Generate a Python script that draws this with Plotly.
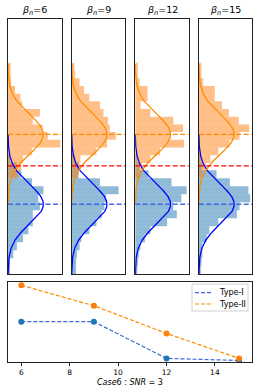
import numpy as np
import plotly.graph_objects as go

# ---------------- data ----------------
beta_n = [6, 9, 12, 15]
type1_err = [0.129, 0.129, 0.007, 0.0]
type2_err = [0.25, 0.182, 0.090, 0.007]
series_names = ['Type-I', 'Type-II']
x_ticks = [6, 8, 10, 12, 14]

mu0 = 0.0
mu1 = 3.5
sigma = 1.0
threshold = 1.92

# histogram bins (lower edge, bin width) and densities listed bottom -> top
h1_start, h1_width = 1.3, 0.385
h0_start, h0_width = -3.5, 0.4

h1_p1 = [0.11, 0.15, 0.17, 0.27, 0.59, 0.45, 0.39, 0.28, 0.36, 0.16, 0.14, 0.08, 0.035, 0.03, 0.03]
h1_p2 = [0.07, 0.09, 0.10, 0.28, 0.40, 0.50, 0.43, 0.41, 0.36, 0.32, 0.20, 0.14, 0.09, 0.04, 0.03]
h1_p3 = [0.06, 0.08, 0.17, 0.28, 0.55, 0.39, 0.54, 0.43, 0.17, 0.06, 0.14, 0.14, 0.05, 0.03, 0.03]
h1_p4 = [0.04, 0.08, 0.13, 0.22, 0.35, 0.46, 0.57, 0.45, 0.34, 0.26, 0.18, 0.18, 0.05, 0.03, 0.03]

h0_p1 = [0.02, 0.02, 0.06, 0.10, 0.17, 0.23, 0.28, 0.28, 0.36, 0.34, 0.40, 0.27, 0.15, 0.10, 0.02, 0.0]
h0_p2 = [0.05, 0.05, 0.06, 0.09, 0.11, 0.20, 0.28, 0.34, 0.37, 0.39, 0.53, 0.32, 0.08, 0.08, 0.04, 0.0]
h0_p3 = [0.02, 0.03, 0.04, 0.06, 0.11, 0.17, 0.36, 0.47, 0.43, 0.52, 0.58, 0.41, 0.15, 0.05, 0.02, 0.0]
h0_p4 = [0.02, 0.03, 0.04, 0.04, 0.09, 0.12, 0.22, 0.43, 0.46, 0.58, 0.56, 0.35, 0.20, 0.04, 0.02, 0.0]

h1_all = [h1_p1, h1_p2, h1_p3, h1_p4]
h0_all = [h0_p1, h0_p2, h0_p3, h0_p4]

# ---------------- layout geometry ----------------
W, H = 260, 392
panel_left = [8, 71.6, 135.2, 198.8]
panel_w = 53.6
top_y0, top_y1 = 19, 274
bot_x0, bot_x1 = 8, 252.4
bot_y0, bot_y1 = 282, 362

y_range = [-3.49, 9.27]
x_hist_range = [0, 0.605]

def px2fx(x):
    return x / W

def px2fy(y):
    return 1 - y / H

fig = go.Figure()

C0 = '#1f77b4'
C1 = '#ff7f0e'
line_cols = ['#4169e1', '#ff8c00']

for i in range(4):
    xa = 'x' if i == 0 else f'x{i+1}'
    ya = 'y' if i == 0 else f'y{i+1}'
    h0 = h0_all[i]
    h1 = h1_all[i]
    c0 = [h0_start + h0_width * (k + 0.5) for k in range(len(h0))]
    c1 = [h1_start + h1_width * (k + 0.5) for k in range(len(h1))]
    fig.add_trace(go.Bar(x=h0, y=c0, orientation='h', width=h0_width,
                         marker=dict(color=C0, opacity=0.5, line_width=0),
                         xaxis=xa, yaxis=ya, showlegend=False, hoverinfo='skip'))
    fig.add_trace(go.Bar(x=h1, y=c1, orientation='h', width=h1_width,
                         marker=dict(color=C1, opacity=0.5, line_width=0),
                         xaxis=xa, yaxis=ya, showlegend=False, hoverinfo='skip'))
    # fitted normal curves
    g0 = np.linspace(mu0 - 3.5 * sigma, mu0 + 3.5 * sigma, 200)
    g1 = np.linspace(mu1 - 3.5 * sigma, mu1 + 3.5 * sigma, 200)
    p0 = np.exp(-0.5 * ((g0 - mu0) / sigma) ** 2) / (sigma * np.sqrt(2 * np.pi))
    p1 = np.exp(-0.5 * ((g1 - mu1) / sigma) ** 2) / (sigma * np.sqrt(2 * np.pi))
    fig.add_trace(go.Scatter(x=p0, y=g0, mode='lines', line=dict(color='#0000ff', width=1.3),
                             xaxis=xa, yaxis=ya, showlegend=False, hoverinfo='skip'))
    fig.add_trace(go.Scatter(x=p1, y=g1, mode='lines', line=dict(color='#ff8c00', width=1.3),
                             xaxis=xa, yaxis=ya, showlegend=False, hoverinfo='skip'))
    # horizontal reference lines
    for yv, col in [(mu1, '#ff8c00'), (threshold, '#ff0000'), (mu0, '#4169e1')]:
        fig.add_trace(go.Scatter(x=x_hist_range, y=[yv, yv], mode='lines',
                                 line=dict(color=col, width=1.3, dash='5px,2.5px'),
                                 xaxis=xa, yaxis=ya, showlegend=False, hoverinfo='skip'))
    axis_common = dict(showline=True, mirror=True, linecolor='#222', linewidth=1,
                       showgrid=False, zeroline=False, showticklabels=False, ticks='')
    fig.layout[f'xaxis{"" if i == 0 else i+1}'] = dict(
        domain=[px2fx(panel_left[i]), px2fx(panel_left[i] + panel_w)],
        range=x_hist_range, anchor=ya, **axis_common)
    fig.layout[f'yaxis{"" if i == 0 else i+1}'] = dict(
        domain=[px2fy(top_y1), px2fy(top_y0)], range=y_range, anchor=xa, **axis_common)
    fig.add_annotation(x=px2fx(panel_left[i] + panel_w / 2), y=px2fy(10.5), xref='paper', yref='paper',
                       text=f'<i>β<sub>n</sub></i>={beta_n[i]}', showarrow=False,
                       font=dict(size=9.5, color='black'), xanchor='center', yanchor='middle')

# ---------------- bottom panel ----------------
for vals, col, mcol, name in [(type1_err, line_cols[0], C0, series_names[0]),
                              (type2_err, line_cols[1], C1, series_names[1])]:
    fig.add_trace(go.Scatter(x=beta_n, y=vals, mode='lines', name=name, showlegend=False,
                             line=dict(color=col, width=1.2, dash='4px,2px'),
                             xaxis='x5', yaxis='y5'))
for vals, mcol in [(type1_err, C0), (type2_err, C1)]:
    fig.add_trace(go.Scatter(x=beta_n, y=vals, mode='markers', showlegend=False,
                             marker=dict(color=mcol, size=6), xaxis='x5', yaxis='y5'))

fig.layout['xaxis5'] = dict(domain=[px2fx(bot_x0), px2fx(bot_x1)], range=[5.45, 15.55], anchor='y5',
                            showline=True, mirror=True, linecolor='#222', linewidth=1,
                            showgrid=False, zeroline=False, tickvals=x_ticks,
                            ticks='outside', ticklen=3, tickwidth=1, tickcolor='#222',
                            tickfont=dict(size=7.5, color='black'))
fig.layout['yaxis5'] = dict(domain=[px2fy(bot_y1), px2fy(bot_y0)], range=[-0.005, 0.261], anchor='x5',
                            showline=True, mirror=True, linecolor='#222', linewidth=1,
                            showgrid=False, zeroline=False, showticklabels=False, ticks='')

fig.add_annotation(x=px2fx((bot_x0 + bot_x1) / 2), y=px2fy(382), xref='paper', yref='paper',
                   text='<i>Case</i>6 : <i>SNR</i> = 3', showarrow=False,
                   font=dict(size=8, color='black'), xanchor='center', yanchor='middle')

# ---------------- compact legend (box, dashed samples, labels) ----------------
leg_x0, leg_x1, leg_y0, leg_y1 = 192, 248, 284, 311
fig.add_shape(type='rect', xref='paper', yref='paper',
              x0=px2fx(leg_x0), x1=px2fx(leg_x1), y0=px2fy(leg_y1), y1=px2fy(leg_y0),
              line=dict(color='#d0d0d0', width=1), fillcolor='rgba(255,255,255,0.85)')
for k, (name, col) in enumerate(zip(series_names, line_cols)):
    yy = [292.7, 304][k]
    fig.add_shape(type='line', xref='paper', yref='paper',
                  x0=px2fx(195), x1=px2fx(212), y0=px2fy(yy), y1=px2fy(yy),
                  line=dict(color=col, width=1.2, dash='4px,2px'))
    fig.add_annotation(x=px2fx(216.5), y=px2fy(yy), xref='paper', yref='paper', text=name,
                       showarrow=False, xanchor='left', yanchor='middle',
                       font=dict(size=8, color='black'))

fig.update_layout(
    width=W, height=H, margin=dict(l=0, r=0, t=0, b=0),
    paper_bgcolor='white', plot_bgcolor='white', barmode='overlay',
    font=dict(family='DejaVu Sans', color='black'),
    showlegend=False,
)

fig.write_html('out.html', config={'displayModeBar': False},
               post_script="document.body.style.margin='0';document.body.style.padding='0';")
